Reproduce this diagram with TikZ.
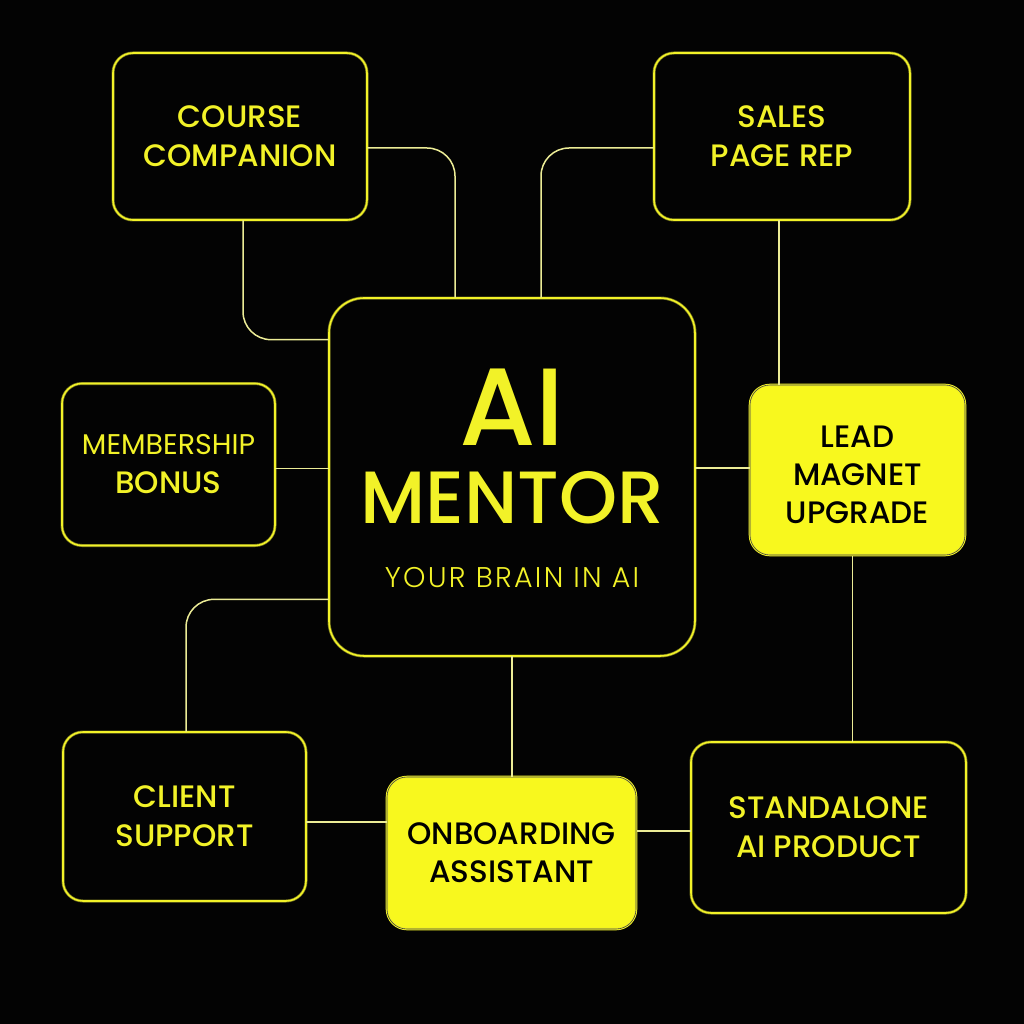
\documentclass[tikz,border=0pt]{standalone}
\usepackage{fontspec}
\setmainfont{Poppins}
\newfontfamily\pmed{Poppins Medium}
\newfontfamily\plight{Poppins Light}
\definecolor{bg}{RGB}{3,3,3}
\definecolor{ylw}{RGB}{242,242,40}
\definecolor{ylwdim}{RGB}{120,120,30}
\definecolor{ylwfill}{RGB}{248,248,30}
\definecolor{wire}{RGB}{236,236,150}
\begin{document}
\begin{tikzpicture}[x=1pt,y=-1pt,
  darkbox/.style={draw=ylwdim, line width=0.7pt, double=ylw, double distance=1.6pt, fill=bg,
    rounded corners=20pt, text=ylw,
    align=center, font=\pmed\fontsize{31}{39}\selectfont, inner sep=0pt},
  ylwbox/.style={draw=ylw, line width=1pt, double=black!75, double distance=0.6pt, fill=ylwfill,
    rounded corners=20pt, text=black,
    align=center, font=\pmed\fontsize{31}{38}\selectfont, inner sep=0pt},
  conn/.style={draw=wire, line width=1.5pt, rounded corners=28pt}]
\fill[bg] (0,0) rectangle (1024,1024);
\useasboundingbox (0,0) rectangle (1024,1024);

% boxes
\node[darkbox, minimum width=254pt, minimum height=167pt] (cc) at (240,136.5) {COURSE\\COMPANION};
\node[darkbox, minimum width=256pt, minimum height=167pt] (sp) at (782,136.5) {SALES\\PAGE REP};
\node[darkbox, minimum width=366pt, minimum height=358pt, rounded corners=35pt] (cm) at (512,477) {};
\node[darkbox, minimum width=213pt, minimum height=162pt] (mb) at (168.5,464.5)
  {{\rmfamily\fontsize{28.5}{38}\selectfont MEMBERSHIP}\\BONUS};
\node[ylwbox, minimum width=215pt, minimum height=170pt] (lm) at (857.5,470) {\rule{0pt}{32pt}LEAD\\MAGNET\\UPGRADE};
\node[darkbox, minimum width=243pt, minimum height=169pt] (cs) at (184.5,816.5) {CLIENT\\SUPPORT};
\node[ylwbox, minimum width=249pt, minimum height=152pt] (ob) at (511.5,853) {ONBOARDING\\ASSISTANT};
\node[darkbox, minimum width=275pt, minimum height=171pt] (sa) at (828.5,827.5) {STANDALONE\\AI PRODUCT};

% centre texts
\node[anchor=base, text=ylw, inner sep=0pt, font=\pmed\fontsize{110}{110}\selectfont] (ai) at (512,445) {AI};
\node[anchor=base, text=ylw, inner sep=0pt, font=\pmed\fontsize{74}{74}\selectfont] (mentor) at (512,523) {MENTOR};
\node[anchor=base, text=ylw, inner sep=0pt, font=\plight\fontsize{28.5}{28.5}\selectfont\addfontfeatures{LetterSpace=8}] (tag) at (512,587) {YOUR BRAIN IN AI};

% connectors
\draw[conn] ([xshift=3pt]cc.south) |- ([yshift=-42pt]cm.north west);
\draw[conn] ([yshift=-11.5pt]cc.east) -| ([xshift=-57pt]cm.north);
\draw[conn] ([yshift=-11.5pt]sp.west) -| ([xshift=29pt]cm.north);
\draw[conn] ([xshift=-3pt]sp.south) -- ([xshift=-3pt]sp.south |- lm.north);
\draw[conn] ([yshift=-4pt]mb.east) -- ([yshift=-4pt]mb.east -| cm.west);
\draw[conn] ([yshift=2pt]lm.west) -- ([yshift=2pt]lm.west -| cm.east);
\draw[conn] ([xshift=-5pt]lm.south) -- ([xshift=-5pt]lm.south |- sa.north);
\draw[conn] ([yshift=57pt]cm.south west) -| ([xshift=1.5pt]cs.north);
\draw[conn] (cm.south) -- (cm.south |- ob.north);
\draw[conn] ([yshift=-5.5pt]cs.east) -- ([yshift=-5.5pt]cs.east -| ob.west);
\draw[conn] ([yshift=-3.5pt]sa.west) -- ([yshift=-3.5pt]sa.west -| ob.east);
\end{tikzpicture}
\end{document}
